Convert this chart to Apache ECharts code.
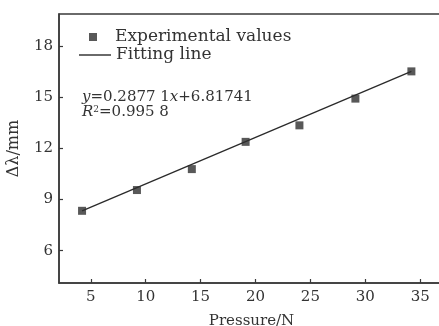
<!DOCTYPE html>
<html>
<head>
<meta charset="utf-8">
<script src="https://cdn.jsdelivr.net/npm/echarts@6/dist/echarts.min.js"></script>
<style>html,body{margin:0;padding:0;background:#fff}#c{width:439px;height:326px}</style>
</head>
<body>
<div id="c"></div>
<script>
// Data
var pressure = [4.2, 9.2, 14.2, 19.1, 24.0, 29.1, 34.2];
var deltaLambda = [8.34, 9.56, 10.79, 12.39, 13.36, 14.93, 16.53];
var fitX = [4.2, 34.2];
var fitY = [8.34, 16.53];
var xTicks = [5, 10, 15, 20, 25, 30, 35];
var yTicks = [6, 9, 12, 15, 18];
var seriesNames = ['Experimental values', 'Fitting line'];

var FONT = 'DejaVu Serif';
var INK = '#3a3a3a';
var chart = echarts.init(document.getElementById('c'), null, {renderer: 'canvas'});
chart.setOption({
  animation: false,
  backgroundColor: '#ffffff',
  grid: {left: 59, right: -5, top: 14, bottom: 43, outerBoundsMode: 'none', containLabel: false,
         show: true, borderColor: INK, borderWidth: 1.5, backgroundColor: 'transparent'},
  xAxis: {
    type: 'value', min: 2.1, max: 37.17,
    name: 'Pressure/N', nameLocation: 'middle', nameGap: 31,
    nameTextStyle: {fontFamily: FONT, fontSize: 15, color: '#333'},
    axisLine: {show: true, lineStyle: {color: INK, width: 1.5}},
    axisTick: {show: true, inside: true, length: 4, customValues: xTicks, lineStyle: {color: INK, width: 1.2}},
    axisLabel: {customValues: xTicks, margin: 7, fontFamily: FONT, fontSize: 15, color: '#333'},
    splitLine: {show: false}
  },
  yAxis: {
    type: 'value', min: 4.1, max: 19.9,
    name: 'Δλ/mm', nameLocation: 'middle', nameGap: 37, nameRotate: 90,
    nameTextStyle: {fontFamily: FONT, fontSize: 16, color: '#333'},
    axisLine: {show: true, lineStyle: {color: INK, width: 1.5}},
    axisTick: {show: true, inside: true, length: 4, customValues: yTicks, lineStyle: {color: INK, width: 1.2}},
    axisLabel: {customValues: yTicks, margin: 6, fontFamily: FONT, fontSize: 15, color: '#333'},
    splitLine: {show: false}
  },
  legend: [
    {
      orient: 'vertical', left: 89, top: 28, padding: 0, itemWidth: 8, itemHeight: 8,
      data: [{name: seriesNames[0], icon: 'rect'}],
      textStyle: {fontFamily: FONT, fontSize: 17, color: '#333', lineHeight: 18, padding: [0, 0, 0, 13]}
    },
    {
      orient: 'vertical', left: 79, top: 46, padding: 0, itemWidth: 32, itemHeight: 1.4,
      data: [{name: seriesNames[1], icon: 'rect'}],
      textStyle: {fontFamily: FONT, fontSize: 17, color: '#333', lineHeight: 18}
    }
  ],
  series: [
    {
      name: seriesNames[1], type: 'line', symbol: 'none', z: 2,
      data: fitX.map(function (x, i) { return [x, fitY[i]]; }),
      lineStyle: {color: '#2a2a2a', width: 1.3},
      itemStyle: {color: '#2a2a2a'}
    },
    {
      name: seriesNames[0], type: 'scatter', symbol: 'rect', symbolSize: 8, z: 3,
      data: pressure.map(function (x, i) { return [x, deltaLambda[i]]; }),
      itemStyle: {color: '#2e2e2e'}
    }
  ],
  graphic: [
    {
      type: 'text', left: 82, top: 90,
      style: {
        text: '{i|y}=0.2877 1{i|x}+6.81741',
        rich: {i: {fontStyle: 'italic', fontFamily: FONT, fontSize: 15}},
        fontFamily: FONT, fontSize: 15, fill: '#333'
      }
    },
    {
      type: 'text', left: 82, top: 105,
      style: {
        text: '{i|R}{s|2}=0.995 8',
        rich: {
          i: {fontStyle: 'italic', fontFamily: FONT, fontSize: 15},
          s: {fontFamily: FONT, fontSize: 9, verticalAlign: 'top', padding: [0, 0, 6, 0]}
        },
        fontFamily: FONT, fontSize: 15, fill: '#333'
      }
    }
  ]
});
</script>
</body>
</html>
